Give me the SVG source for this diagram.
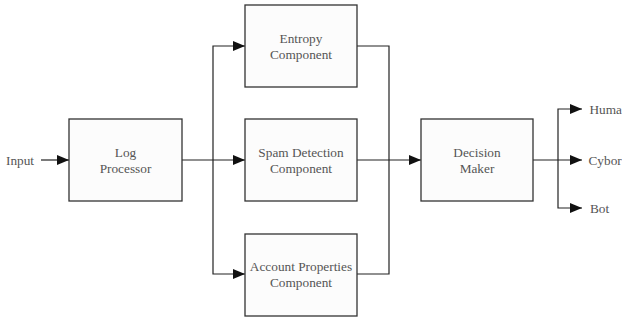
<svg xmlns="http://www.w3.org/2000/svg" width="622" height="321" viewBox="0 0 622 321">
<style>
.box{fill:#fcfcfc;stroke:#333;stroke-width:1.3}
text{font-family:'Liberation Serif','Times New Roman',Tinos,'DejaVu Serif',serif;font-size:13.3px;fill:#555}
.t{text-anchor:middle}
.c{fill:none;stroke:#222;stroke-width:1.2}
</style>
<defs>
<marker id="a" markerWidth="12" markerHeight="10" refX="12" refY="5" orient="auto" markerUnits="userSpaceOnUse">
<path d="M0,0 L12,5 L0,10 Z" fill="#111"/>
</marker>
</defs>
<rect width="622" height="321" fill="#fff"/>
<g id="connectors">
<path class="c" d="M41,160 H69" marker-end="url(#a)"/>
<path class="c" d="M182,160 H245" marker-end="url(#a)"/>
<path class="c" d="M213,160 V46 H245" marker-end="url(#a)"/>
<path class="c" d="M213,160 V274 H245" marker-end="url(#a)"/>
<path class="c" d="M357,46 H389 V274 H357"/>
<path class="c" d="M357,160 H421" marker-end="url(#a)"/>
<path class="c" d="M533,160 H582" marker-end="url(#a)"/>
<path class="c" d="M558,160 V109 H582" marker-end="url(#a)"/>
<path class="c" d="M558,160 V208 H582" marker-end="url(#a)"/>
</g>
<g id="input"><text x="6" y="165">Input</text></g>
<g id="log"><rect class="box" x="69" y="119" width="113" height="82"/><text class="t" x="125.5" y="157">Log</text><text class="t" x="125.5" y="173">Processor</text></g>
<g id="entropy"><rect class="box" x="245" y="5" width="112" height="82"/><text class="t" x="301" y="43">Entropy</text><text class="t" x="301" y="59">Component</text></g>
<g id="spam"><rect class="box" x="245" y="119" width="112" height="82"/><text class="t" x="301" y="157">Spam Detection</text><text class="t" x="301" y="173">Component</text></g>
<g id="account"><rect class="box" x="245" y="234" width="112" height="82"/><text class="t" x="301" y="271">Account Properties</text><text class="t" x="301" y="287">Component</text></g>
<g id="decision"><rect class="box" x="421" y="119" width="112" height="82"/><text class="t" x="477" y="157">Decision</text><text class="t" x="477" y="173">Maker</text></g>
<g id="human"><text x="589.5" y="114">Huma</text></g>
<g id="cyborg"><text x="588.5" y="165">Cybor</text></g>
<g id="bot"><text x="590" y="213">Bot</text></g>
</svg>
